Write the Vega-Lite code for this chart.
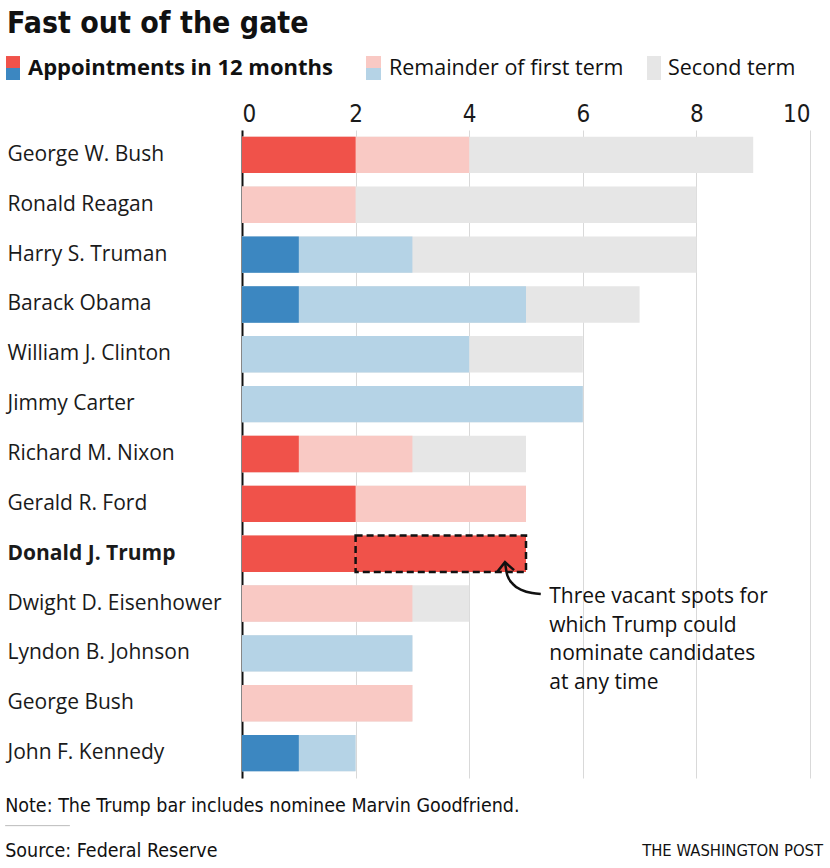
{
  "$schema": "https://vega.github.io/schema/vega-lite/v6.json",
  "autosize": {"type": "none"},
  "width": 568,
  "height": 648,
  "padding": {"left": 242, "top": 130, "right": 20, "bottom": 90},
  "background": "white",
  "config": {"view": {"stroke": null}, "font": "Open Sans"},
  "title": {
    "text": "Fast out of the gate",
    "anchor": "start",
    "frame": "group",
    "dx": -235,
    "offset": 17,
    "font": "Liberation Sans Narrow, DejaVu Sans Condensed, sans-serif",
    "fontSize": 30,
    "fontWeight": "bold",
    "color": "#111"
  },
  "datasets": {
    "presidents": [
      {"name": "George W. Bush", "party": "R", "m12": 2, "first": 4, "total": 9},
      {"name": "Ronald Reagan", "party": "R", "m12": 0, "first": 2, "total": 8},
      {"name": "Harry S. Truman", "party": "D", "m12": 1, "first": 3, "total": 8},
      {"name": "Barack Obama", "party": "D", "m12": 1, "first": 5, "total": 7},
      {"name": "William J. Clinton", "party": "D", "m12": 0, "first": 4, "total": 6},
      {"name": "Jimmy Carter", "party": "D", "m12": 0, "first": 6, "total": 6},
      {"name": "Richard M. Nixon", "party": "R", "m12": 1, "first": 3, "total": 5},
      {"name": "Gerald R. Ford", "party": "R", "m12": 2, "first": 5, "total": 5},
      {"name": "Donald J. Trump", "party": "R", "m12": 2, "first": 5, "total": 5, "vacant": 3},
      {"name": "Dwight D. Eisenhower", "party": "R", "m12": 0, "first": 3, "total": 4},
      {"name": "Lyndon B. Johnson", "party": "D", "m12": 0, "first": 3, "total": 3},
      {"name": "George Bush", "party": "R", "m12": 0, "first": 3, "total": 3},
      {"name": "John F. Kennedy", "party": "D", "m12": 1, "first": 2, "total": 2}
    ],
    "arrowCurve": [
      {"x": 4.63, "y": 8.67},
      {"x": 4.67, "y": 8.93},
      {"x": 4.77, "y": 9.11},
      {"x": 4.93, "y": 9.23},
      {"x": 5.11, "y": 9.29},
      {"x": 5.26, "y": 9.31}
    ],
    "arrowHead": [
      {"x": 4.49, "y": 8.87},
      {"x": 4.63, "y": 8.67},
      {"x": 4.79, "y": 8.83}
    ],
    "one": [{"item": "annotation"}]
  },
  "layer": [
    {
      "data": {"name": "presidents"},
      "mark": {"type": "bar", "color": "#e6e6e6"},
      "encoding": {
        "y": {
          "field": "name",
          "type": "nominal",
          "sort": null,
          "title": null,
          "scale": {
            "domain": ["George W. Bush", "Ronald Reagan", "Harry S. Truman", "Barack Obama", "William J. Clinton", "Jimmy Carter", "Richard M. Nixon", "Gerald R. Ford", "Donald J. Trump", "Dwight D. Eisenhower", "Lyndon B. Johnson", "George Bush", "John F. Kennedy"],
            "paddingInner": 0.27,
            "paddingOuter": 0.135
          },
          "axis": {
            "orient": "left",
            "domain": true,
            "domainColor": "#111",
            "domainWidth": 2,
            "ticks": false,
            "grid": false,
            "labelAlign": "left",
            "labelPadding": 235,
            "labelFont": "Open Sans",
            "labelFontSize": 21,
            "labelColor": "#1a1a1a",
            "labelLimit": 300,
            "labelFontWeight": {"condition": {"test": "datum.value === 'Donald J. Trump'", "value": "bold"}, "value": "normal"}
          }
        },
        "x": {
          "field": "total",
          "type": "quantitative",
          "stack": null,
          "title": null,
          "scale": {"domain": [0, 10], "nice": false},
          "axis": {
            "orient": "top",
            "values": [0, 2, 4, 6, 8, 10],
            "format": "d",
            "domain": false,
            "ticks": false,
            "grid": true,
            "gridColor": "#d9d9d9",
            "gridWidth": 1,
            "labelFont": "Liberation Sans Narrow, DejaVu Sans Condensed, sans-serif",
            "labelFontSize": 24,
            "labelColor": "#1a1a1a",
            "labelPadding": 4
          }
        }
      }
    },
    {
      "data": {"name": "presidents"},
      "mark": {"type": "bar"},
      "encoding": {
        "y": {
          "field": "name",
          "type": "nominal",
          "sort": null,
          "title": null,
          "axis": null,
          "scale": {
            "domain": ["George W. Bush", "Ronald Reagan", "Harry S. Truman", "Barack Obama", "William J. Clinton", "Jimmy Carter", "Richard M. Nixon", "Gerald R. Ford", "Donald J. Trump", "Dwight D. Eisenhower", "Lyndon B. Johnson", "George Bush", "John F. Kennedy"],
            "paddingInner": 0.27,
            "paddingOuter": 0.135
          }
        },
        "x": {"field": "first", "type": "quantitative", "stack": null, "title": null, "scale": {"domain": [0, 10], "nice": false}},
        "fill": {
          "field": "party",
          "type": "nominal",
          "scale": {"domain": ["R", "D"], "range": ["#f9c9c4", "#b5d3e6"]},
          "legend": null
        }
      }
    },
    {
      "data": {"name": "presidents"},
      "mark": {"type": "bar"},
      "encoding": {
        "y": {
          "field": "name",
          "type": "nominal",
          "sort": null,
          "title": null,
          "axis": null,
          "scale": {
            "domain": ["George W. Bush", "Ronald Reagan", "Harry S. Truman", "Barack Obama", "William J. Clinton", "Jimmy Carter", "Richard M. Nixon", "Gerald R. Ford", "Donald J. Trump", "Dwight D. Eisenhower", "Lyndon B. Johnson", "George Bush", "John F. Kennedy"],
            "paddingInner": 0.27,
            "paddingOuter": 0.135
          }
        },
        "x": {"field": "m12", "type": "quantitative", "stack": null, "title": null, "scale": {"domain": [0, 10], "nice": false}},
        "color": {
          "field": "party",
          "type": "nominal",
          "scale": {"domain": ["R", "D"], "range": ["#f0524a", "#3c87c1"]},
          "legend": null
        }
      }
    },
    {
      "data": {"name": "presidents"},
      "transform": [{"filter": "datum.vacant > 0"}],
      "mark": {"type": "bar", "fill": "#f0524a", "stroke": "#111", "strokeWidth": 2.5, "strokeDash": [7, 4]},
      "encoding": {
        "y": {
          "field": "name",
          "type": "nominal",
          "sort": null,
          "title": null,
          "axis": null,
          "scale": {
            "domain": ["George W. Bush", "Ronald Reagan", "Harry S. Truman", "Barack Obama", "William J. Clinton", "Jimmy Carter", "Richard M. Nixon", "Gerald R. Ford", "Donald J. Trump", "Dwight D. Eisenhower", "Lyndon B. Johnson", "George Bush", "John F. Kennedy"],
            "paddingInner": 0.27,
            "paddingOuter": 0.135
          }
        },
        "x": {"field": "m12", "type": "quantitative", "stack": null, "title": null, "scale": {"domain": [0, 10], "nice": false}},
        "x2": {"field": "first"}
      }
    },
    {
      "data": {"name": "one"},
      "mark": {"type": "rect", "fill": "#f0524a"},
      "encoding": {
        "x": {"datum": -4.155, "type": "quantitative", "title": null, "scale": {"domain": [0, 10], "nice": false}},
        "x2": {"datum": -3.908},
        "y": {"datum": -1.484, "type": "quantitative", "title": null, "axis": null, "scale": {"domain": [0, 13], "nice": false, "zero": false, "reverse": true}},
        "y2": {"datum": -1.244}
      }
    },
    {
      "data": {"name": "one"},
      "mark": {"type": "rect", "fill": "#3c87c1"},
      "encoding": {
        "x": {"datum": -4.155, "type": "quantitative", "title": null, "scale": {"domain": [0, 10], "nice": false}},
        "x2": {"datum": -3.908},
        "y": {"datum": -1.244, "type": "quantitative", "title": null, "axis": null, "scale": {"domain": [0, 13], "nice": false, "zero": false, "reverse": true}},
        "y2": {"datum": -1.003}
      }
    },
    {
      "data": {"name": "one"},
      "mark": {"type": "rect", "fill": "#f9c9c4"},
      "encoding": {
        "x": {"datum": 2.183, "type": "quantitative", "title": null, "scale": {"domain": [0, 10], "nice": false}},
        "x2": {"datum": 2.447},
        "y": {"datum": -1.484, "type": "quantitative", "title": null, "axis": null, "scale": {"domain": [0, 13], "nice": false, "zero": false, "reverse": true}},
        "y2": {"datum": -1.244}
      }
    },
    {
      "data": {"name": "one"},
      "mark": {"type": "rect", "fill": "#b5d3e6"},
      "encoding": {
        "x": {"datum": 2.183, "type": "quantitative", "title": null, "scale": {"domain": [0, 10], "nice": false}},
        "x2": {"datum": 2.447},
        "y": {"datum": -1.244, "type": "quantitative", "title": null, "axis": null, "scale": {"domain": [0, 13], "nice": false, "zero": false, "reverse": true}},
        "y2": {"datum": -1.003}
      }
    },
    {
      "data": {"name": "one"},
      "mark": {"type": "rect", "fill": "#e6e6e6"},
      "encoding": {
        "x": {"datum": 7.13, "type": "quantitative", "title": null, "scale": {"domain": [0, 10], "nice": false}},
        "x2": {"datum": 7.377},
        "y": {"datum": -1.484, "type": "quantitative", "title": null, "axis": null, "scale": {"domain": [0, 13], "nice": false, "zero": false, "reverse": true}},
        "y2": {"datum": -1.003}
      }
    },
    {
      "data": {"name": "one"},
      "mark": {"type": "text", "text": "Appointments in 12 months", "align": "left", "baseline": "alphabetic", "font": "Open Sans", "fontSize": 22, "fontWeight": "bold", "color": "#111"},
      "encoding": {
        "x": {"datum": -3.768, "type": "quantitative", "title": null, "scale": {"domain": [0, 10], "nice": false}},
        "y": {"datum": -1.103, "type": "quantitative", "title": null, "axis": null, "scale": {"domain": [0, 13], "nice": false, "zero": false, "reverse": true}}
      }
    },
    {
      "data": {"name": "one"},
      "mark": {"type": "text", "text": "Remainder of first term", "align": "left", "baseline": "alphabetic", "font": "Open Sans", "fontSize": 21.5, "color": "#111"},
      "encoding": {
        "x": {"datum": 2.588, "type": "quantitative", "title": null, "scale": {"domain": [0, 10], "nice": false}},
        "y": {"datum": -1.103, "type": "quantitative", "title": null, "axis": null, "scale": {"domain": [0, 13], "nice": false, "zero": false, "reverse": true}}
      }
    },
    {
      "data": {"name": "one"},
      "mark": {"type": "text", "text": "Second term", "align": "left", "baseline": "alphabetic", "font": "Open Sans", "fontSize": 21.5, "color": "#111"},
      "encoding": {
        "x": {"datum": 7.5, "type": "quantitative", "title": null, "scale": {"domain": [0, 10], "nice": false}},
        "y": {"datum": -1.103, "type": "quantitative", "title": null, "axis": null, "scale": {"domain": [0, 13], "nice": false, "zero": false, "reverse": true}}
      }
    },
    {
      "data": {"name": "arrowCurve"},
      "mark": {"type": "line", "interpolate": "monotone", "stroke": "#111", "strokeWidth": 2.5},
      "encoding": {
        "x": {"field": "x", "type": "quantitative", "title": null, "scale": {"domain": [0, 10], "nice": false}},
        "y": {"field": "y", "type": "quantitative", "title": null, "axis": null, "scale": {"domain": [0, 13], "nice": false, "zero": false, "reverse": true}}
      }
    },
    {
      "data": {"name": "arrowHead"},
      "mark": {"type": "line", "stroke": "#111", "strokeWidth": 2.5, "strokeJoin": "miter"},
      "encoding": {
        "x": {"field": "x", "type": "quantitative", "title": null, "scale": {"domain": [0, 10], "nice": false}},
        "y": {"field": "y", "type": "quantitative", "title": null, "axis": null, "scale": {"domain": [0, 13], "nice": false, "zero": false, "reverse": true}}
      }
    },
    {
      "data": {"name": "one"},
      "mark": {"type": "text", "text": ["Three vacant spots for", "which Trump could", "nominate candidates", "at any time"], "align": "left", "baseline": "alphabetic", "font": "Open Sans", "fontSize": 21, "lineHeight": 28.5, "color": "#111"},
      "encoding": {
        "x": {"datum": 5.41, "type": "quantitative", "title": null, "scale": {"domain": [0, 10], "nice": false}},
        "y": {"datum": 9.49, "type": "quantitative", "title": null, "axis": null, "scale": {"domain": [0, 13], "nice": false, "zero": false, "reverse": true}}
      }
    },
    {
      "data": {"name": "one"},
      "mark": {"type": "text", "text": "Note: The Trump bar includes nominee Marvin Goodfriend.", "align": "left", "baseline": "alphabetic", "font": "Liberation Sans Narrow, DejaVu Sans Condensed, sans-serif", "fontSize": 19.5, "color": "#111"},
      "encoding": {
        "x": {"datum": -4.17, "type": "quantitative", "title": null, "scale": {"domain": [0, 10], "nice": false}},
        "y": {"datum": 13.675, "type": "quantitative", "title": null, "axis": null, "scale": {"domain": [0, 13], "nice": false, "zero": false, "reverse": true}}
      }
    },
    {
      "data": {"name": "one"},
      "mark": {"type": "rule", "stroke": "#bbbbbb", "strokeWidth": 1},
      "encoding": {
        "x": {"datum": -4.17, "type": "quantitative", "title": null, "scale": {"domain": [0, 10], "nice": false}},
        "x2": {"datum": -3.03},
        "y": {"datum": 13.956, "type": "quantitative", "title": null, "axis": null, "scale": {"domain": [0, 13], "nice": false, "zero": false, "reverse": true}}
      }
    },
    {
      "data": {"name": "one"},
      "mark": {"type": "text", "text": "Source: Federal Reserve", "align": "left", "baseline": "alphabetic", "font": "Liberation Sans Narrow, DejaVu Sans Condensed, sans-serif", "fontSize": 19.5, "color": "#111"},
      "encoding": {
        "x": {"datum": -4.17, "type": "quantitative", "title": null, "scale": {"domain": [0, 10], "nice": false}},
        "y": {"datum": 14.58, "type": "quantitative", "title": null, "axis": null, "scale": {"domain": [0, 13], "nice": false, "zero": false, "reverse": true}}
      }
    },
    {
      "data": {"name": "one"},
      "mark": {"type": "text", "text": "THE WASHINGTON POST", "align": "right", "baseline": "alphabetic", "font": "Liberation Sans Narrow, DejaVu Sans Condensed, sans-serif", "fontSize": 16.5, "color": "#111"},
      "encoding": {
        "x": {"datum": 10.23, "type": "quantitative", "title": null, "scale": {"domain": [0, 10], "nice": false}},
        "y": {"datum": 14.56, "type": "quantitative", "title": null, "axis": null, "scale": {"domain": [0, 13], "nice": false, "zero": false, "reverse": true}}
      }
    }
  ],
  "resolve": {"scale": {"y": "independent"}}
}
